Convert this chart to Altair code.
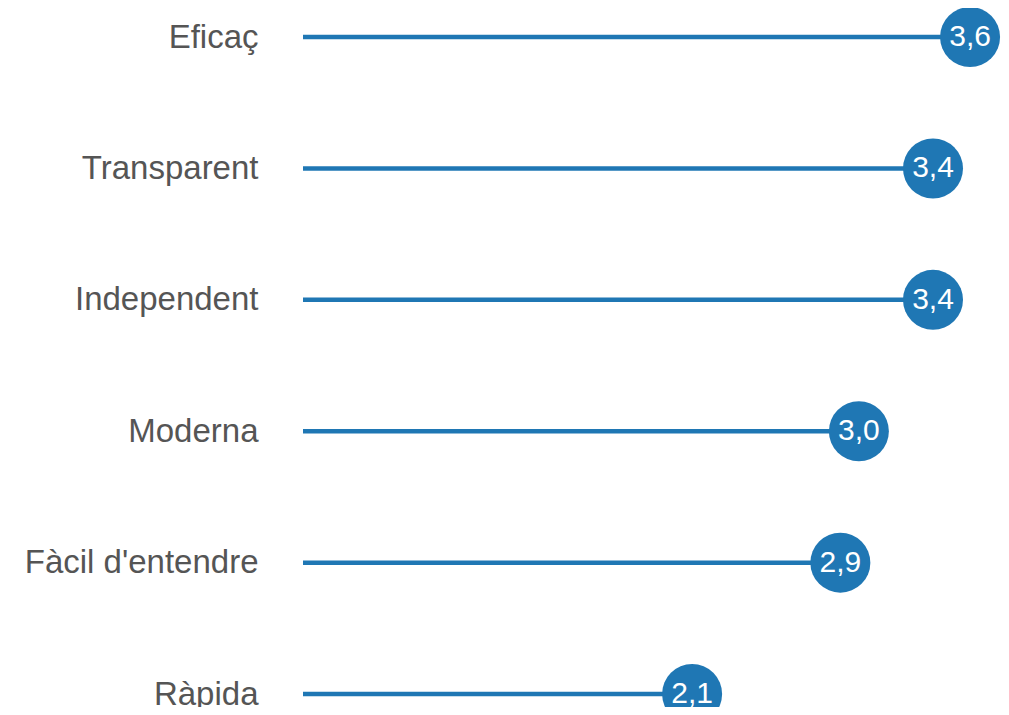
import altair as alt
import pandas as pd

categories = ["Eficaç", "Transparent", "Independent", "Moderna", "Fàcil d'entendre", "Ràpida"]
values = [3.6, 3.4, 3.4, 3.0, 2.9, 2.1]
value_labels = ["3,6", "3,4", "3,4", "3,0", "2,9", "2,1"]

df = pd.DataFrame({"cat": categories, "val": values, "lab": value_labels, "zero": [0] * len(values)})

blue = "#1f77b4"

y = alt.Y("cat:N", sort=categories,
          scale=alt.Scale(type="point", padding=0.1408, align=0.65),
          axis=alt.Axis(title=None, domain=False, ticks=False, grid=False,
                        labelFontSize=33, labelFont="Liberation Sans", labelColor="#555555",
                        labelPadding=45, labelLimit=0))
x = alt.X("val:Q", scale=alt.Scale(domain=[0, 3.767], nice=False, zero=True), axis=None)

base = alt.Chart(df)

rules = base.mark_rule(color=blue, strokeWidth=4.5).encode(
    y=y, x=alt.X("zero:Q", scale=alt.Scale(domain=[0, 3.767], nice=False), axis=None), x2="val:Q")
dots = base.mark_circle(color=blue, size=3600, opacity=1).encode(y=y, x=x)
texts = base.mark_text(color="white", fontSize=30, font="Liberation Sans",
                       align="center", baseline="middle").encode(y=y, x=x, text="lab:N")

chart = alt.layer(rules, dots, texts).properties(
    width=698, height=694,
    padding={"left": 295, "top": 5, "right": 0, "bottom": 0},
    autosize=alt.AutoSizeParams(type="none"),
).configure(background="white").configure_view(strokeWidth=0, stroke="transparent")

chart.save("out.html", embed_options={"renderer": "svg", "actions": False})
